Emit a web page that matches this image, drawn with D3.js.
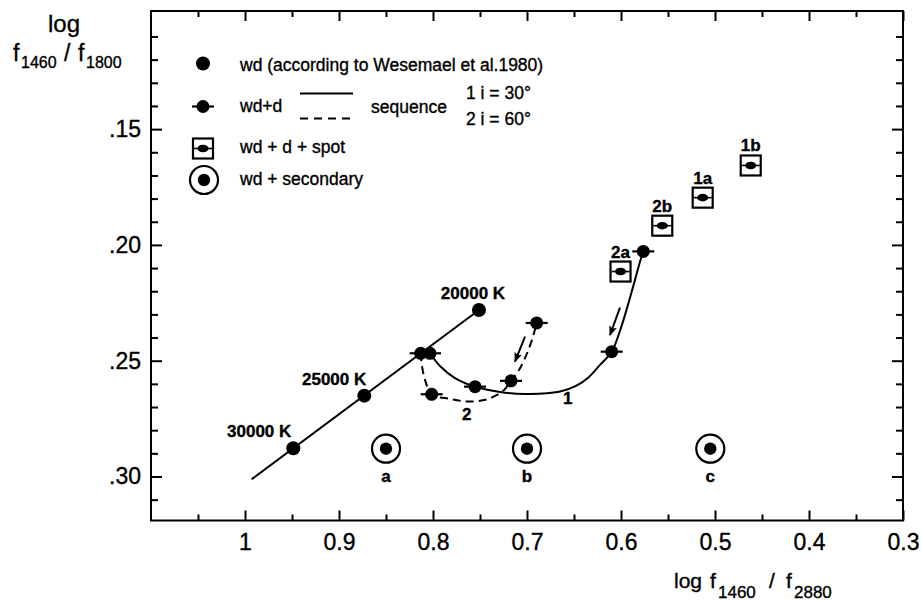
<!DOCTYPE html>
<html><head><meta charset="utf-8">
<script src="https://cdn.jsdelivr.net/npm/d3@7"></script>
<style>
body{margin:0;background:#fff}
svg{display:block}
text{font-family:"Liberation Sans",Arial,sans-serif;fill:#000;stroke:#000;stroke-width:0.35px}
</style>
</head><body>
<svg id="c" width="922" height="601"></svg>
<script>
// ---------------- data ----------------
const wdTemps = ["30000 K", "25000 K", "20000 K"];
const wdX = [0.9486, 0.8731, 0.7511];
const wdY = [0.2878, 0.2651, 0.2281];
const wdLineX = [0.993, 0.7511];
const wdLineY = [0.3012, 0.2281];

// sequence 1 (i = 30°), solid curve
const seq1X = [0.8032, 0.7926, 0.7766, 0.7553, 0.7287, 0.7021, 0.6787, 0.6628, 0.6479, 0.6340, 0.6223, 0.6099, 0.6011, 0.5926, 0.5851, 0.5798, 0.5763];
const seq1Y = [0.2468, 0.2523, 0.2575, 0.2612, 0.2635, 0.2644, 0.2641, 0.2631, 0.2609, 0.2570, 0.2518, 0.2461, 0.2371, 0.2259, 0.2151, 0.2073, 0.2028];
const seq1PtX = [0.8032, 0.7553, 0.6099, 0.5763];
const seq1PtY = [0.2468, 0.2612, 0.2461, 0.2028];

// sequence 2 (i = 60°), dashed curve
const seq2X = [0.8131, 0.8117, 0.8085, 0.8014, 0.7819, 0.7638, 0.7457, 0.7319, 0.7234, 0.7170, 0.7085, 0.7011, 0.6947, 0.6897];
const seq2Y = [0.2468, 0.2523, 0.2583, 0.2645, 0.2665, 0.2676, 0.2670, 0.2648, 0.2622, 0.2587, 0.2540, 0.2479, 0.2410, 0.2337];
const seq2PtX = [0.8131, 0.8014, 0.7170, 0.6897];
const seq2PtY = [0.2468, 0.2645, 0.2587, 0.2337];

// wd + d + spot
const spotLabels = ["2a", "2b", "1a", "1b"];
const spotX = [0.6005, 0.5561, 0.5131, 0.4620];
const spotY = [0.2115, 0.1917, 0.1796, 0.1657];

// wd + secondary
const secLabels = ["a", "b", "c"];
const secX = [0.85, 0.70, 0.505];
const secY = [0.288, 0.288, 0.288];

// arrows (from -> to)
const arrowFromX = [0.7021, 0.6011];
const arrowFromY = [0.2396, 0.2271];
const arrowToX = [0.7128, 0.6117];
const arrowToY = [0.2504, 0.2389];

// sequence number labels
const seqLabels = ["1", "2"];
const seqLabelX = [0.6567, 0.7642];
const seqLabelY = [0.2665, 0.2734];

// ticks
const xTickValues = [1, 0.9, 0.8, 0.7, 0.6, 0.5, 0.4, 0.3];
const xTickLabels = ["1", "0.9", "0.8", "0.7", "0.6", "0.5", "0.4", "0.3"];
const xMinorValues = [1.05, 0.95, 0.85, 0.75, 0.65, 0.55, 0.45, 0.35];
const yTickValues = [0.15, 0.20, 0.25, 0.30];
const yTickLabels = [".15", ".20", ".25", ".30"];
const yMinorValues = [0.11, 0.12, 0.13, 0.14, 0.16, 0.17, 0.18, 0.19, 0.21, 0.22, 0.23, 0.24, 0.26, 0.27, 0.28, 0.29, 0.31];

// ---------------- drawing ----------------
const svg = d3.select("#c");
const L = 151, R = 903, T = 11, B = 520.5;
const x = d3.scaleLinear().domain([1.1, 0.3]).range([L, R]);
const y = d3.scaleLinear().domain([0.099, 0.319]).range([T, B]);

svg.append("defs").append("marker")
  .attr("id", "ah").attr("viewBox", "0 0 10 8").attr("refX", 9).attr("refY", 4)
  .attr("markerWidth", 10).attr("markerHeight", 8).attr("markerUnits", "userSpaceOnUse")
  .attr("orient", "auto")
  .append("path").attr("d", "M0,0 L10,4 L0,8 L2,4 z").attr("fill", "#000");

function styleAxis(g) {
  g.select(".domain").remove();
  g.selectAll(".tick line").attr("stroke", "#000").attr("stroke-width", 2);
}

// major / minor ticks on all four sides
svg.append("g").attr("transform", `translate(0,${B})`)
  .call(d3.axisBottom(x).tickValues(xTickValues).tickSize(-10).tickPadding(13)
    .tickFormat((d, i) => xTickLabels[i]))
  .call(styleAxis)
  .call(g => g.selectAll("text").attr("font-size", 23).attr("font-family", "Liberation Sans"));
svg.append("g").attr("transform", `translate(0,${B})`)
  .call(d3.axisBottom(x).tickValues(xMinorValues).tickSize(-6).tickFormat(""))
  .call(styleAxis);
svg.append("g").attr("transform", `translate(0,${T})`)
  .call(d3.axisTop(x).tickValues(xTickValues).tickSize(-10).tickFormat(""))
  .call(styleAxis);
svg.append("g").attr("transform", `translate(0,${T})`)
  .call(d3.axisTop(x).tickValues(xMinorValues).tickSize(-6).tickFormat(""))
  .call(styleAxis);

svg.append("g").attr("transform", `translate(${L},0)`)
  .call(d3.axisLeft(y).tickValues(yTickValues).tickSize(-11).tickPadding(10)
    .tickFormat((d, i) => yTickLabels[i]))
  .call(styleAxis)
  .call(g => g.selectAll("text").attr("font-size", 23).attr("font-family", "Liberation Sans"));
svg.append("g").attr("transform", `translate(${L},0)`)
  .call(d3.axisLeft(y).tickValues(yMinorValues).tickSize(-7).tickFormat(""))
  .call(styleAxis);
svg.append("g").attr("transform", `translate(${R},0)`)
  .call(d3.axisRight(y).tickValues(yTickValues).tickSize(-11).tickFormat(""))
  .call(styleAxis);
svg.append("g").attr("transform", `translate(${R},0)`)
  .call(d3.axisRight(y).tickValues(yMinorValues).tickSize(-7).tickFormat(""))
  .call(styleAxis);

// frame
svg.append("rect").attr("x", L).attr("y", T).attr("width", R - L).attr("height", B - T)
  .attr("fill", "none").attr("stroke", "#000").attr("stroke-width", 2);

// axis titles
const yt = svg.append("g");
yt.append("text").attr("x", 64).attr("y", 32).attr("text-anchor", "middle").attr("font-size", 24).text("log");
const yt2 = yt.append("text").attr("y", 61).attr("font-size", 23);
yt2.append("tspan").attr("x", 13).text("f");
yt2.append("tspan").attr("x", 21).attr("dy", 7).attr("font-size", 16).text("1460");
yt2.append("tspan").attr("x", 64).attr("dy", -7).text("/");
yt2.append("tspan").attr("x", 78).text("f");
yt2.append("tspan").attr("x", 86).attr("dy", 7).attr("font-size", 16).text("1800");

const xt = svg.append("text").attr("y", 588).attr("font-size", 21);
xt.append("tspan").attr("x", 674).text("log");
xt.append("tspan").attr("x", 710).text("f");
xt.append("tspan").attr("x", 718).attr("dy", 10).attr("font-size", 17).text("1460");
xt.append("tspan").attr("x", 769).attr("dy", -10).text("/");
xt.append("tspan").attr("x", 786).text("f");
xt.append("tspan").attr("x", 794).attr("dy", 10).attr("font-size", 17).text("2880");

// marker painters
function wdDot(g, cx, cy) {
  g.append("circle").attr("cx", cx).attr("cy", cy).attr("r", 7).attr("fill", "#000");
}
function wdd(g, cx, cy) {
  g.append("line").attr("x1", cx - 11).attr("x2", cx + 11).attr("y1", cy).attr("y2", cy)
    .attr("stroke", "#000").attr("stroke-width", 2.2);
  g.append("circle").attr("cx", cx).attr("cy", cy).attr("r", 6.5).attr("fill", "#000");
}
function spot(g, cx, cy) {
  g.append("rect").attr("x", cx - 10).attr("y", cy - 10).attr("width", 20).attr("height", 20)
    .attr("fill", "#fff").attr("stroke", "#000").attr("stroke-width", 2.2);
  g.append("line").attr("x1", cx - 9).attr("x2", cx + 9).attr("y1", cy).attr("y2", cy)
    .attr("stroke", "#000").attr("stroke-width", 1.6);
  g.append("ellipse").attr("cx", cx).attr("cy", cy).attr("rx", 5.5).attr("ry", 3.8).attr("fill", "#000");
}
function sec(g, cx, cy) {
  g.append("circle").attr("cx", cx).attr("cy", cy).attr("r", 14).attr("fill", "#fff")
    .attr("stroke", "#000").attr("stroke-width", 2.2);
  g.append("circle").attr("cx", cx).attr("cy", cy).attr("r", 6.2).attr("fill", "#000");
}

const plot = svg.append("g");

// Wesemael et al. line
plot.append("path")
  .attr("d", d3.line().x((d, i) => x(wdLineX[i])).y((d, i) => y(wdLineY[i]))(wdLineX))
  .attr("fill", "none").attr("stroke", "#000").attr("stroke-width", 2);

// sequences
const curve = d3.line().curve(d3.curveCatmullRom.alpha(0.5));
plot.append("path")
  .attr("d", curve(seq1X.map((v, i) => [x(v), y(seq1Y[i])])))
  .attr("fill", "none").attr("stroke", "#000").attr("stroke-width", 2);
plot.append("path")
  .attr("d", curve(seq2X.map((v, i) => [x(v), y(seq2Y[i])])))
  .attr("fill", "none").attr("stroke", "#000").attr("stroke-width", 2)
  .attr("stroke-dasharray", "8,5");

// arrows
arrowFromX.forEach((v, i) => {
  plot.append("line").attr("x1", x(v)).attr("y1", y(arrowFromY[i]))
    .attr("x2", x(arrowToX[i])).attr("y2", y(arrowToY[i]))
    .attr("stroke", "#000").attr("stroke-width", 2).attr("marker-end", "url(#ah)");
});

// points
wdX.forEach((v, i) => wdDot(plot, x(v), y(wdY[i])));
seq2PtX.forEach((v, i) => wdd(plot, x(v), y(seq2PtY[i])));
seq1PtX.forEach((v, i) => wdd(plot, x(v), y(seq1PtY[i])));
spotX.forEach((v, i) => spot(plot, x(v), y(spotY[i])));
secX.forEach((v, i) => sec(plot, x(v), y(secY[i])));

// annotations
const annFont = 17;
const tempDx = [-2, 2, -6], tempAnchor = ["end", "end", "middle"];
wdX.forEach((v, i) => {
  plot.append("text").attr("x", x(v) + tempDx[i]).attr("y", y(wdY[i]) - 11)
    .attr("text-anchor", tempAnchor[i]).attr("font-size", annFont).attr("font-weight", "bold")
    .attr("stroke-width", 0).text(wdTemps[i]);
});
spotX.forEach((v, i) => {
  plot.append("text").attr("x", x(v)).attr("y", y(spotY[i]) - 14)
    .attr("text-anchor", "middle").attr("font-size", annFont).attr("font-weight", "bold")
    .attr("stroke-width", 0).text(spotLabels[i]);
});
secX.forEach((v, i) => {
  plot.append("text").attr("x", x(v)).attr("y", y(secY[i]) + 33)
    .attr("text-anchor", "middle").attr("font-size", annFont).attr("font-weight", "bold")
    .attr("stroke-width", 0).text(secLabels[i]);
});
seqLabelX.forEach((v, i) => {
  plot.append("text").attr("x", x(v)).attr("y", y(seqLabelY[i]))
    .attr("text-anchor", "middle").attr("dominant-baseline", "central")
    .attr("font-size", annFont).attr("font-weight", "bold")
    .attr("stroke-width", 0).text(seqLabels[i]);
});

// legend
const lg = svg.append("g").attr("font-size", 17.5);
wdDot(lg, 203, 63.5);
lg.append("text").attr("x", 240).attr("y", 71).text("wd (according to Wesemael et al.1980)");
wdd(lg, 203, 106.5);
lg.append("text").attr("x", 240).attr("y", 112).text("wd+d");
lg.append("line").attr("x1", 300).attr("x2", 353).attr("y1", 93.5).attr("y2", 93.5)
  .attr("stroke", "#000").attr("stroke-width", 2);
lg.append("line").attr("x1", 300).attr("x2", 353).attr("y1", 118.5).attr("y2", 118.5)
  .attr("stroke", "#000").attr("stroke-width", 2).attr("stroke-dasharray", "8,6");
lg.append("text").attr("x", 371).attr("y", 113).text("sequence");
lg.append("text").attr("x", 466).attr("y", 98.5).text("1  i = 30°");
lg.append("text").attr("x", 466).attr("y", 125).text("2  i = 60°");
spot(lg, 203, 148.5);
lg.append("text").attr("x", 240).attr("y", 153).text("wd + d + spot");
sec(lg, 204, 180);
lg.append("text").attr("x", 240).attr("y", 185).text("wd + secondary");
</script>
</body></html>
